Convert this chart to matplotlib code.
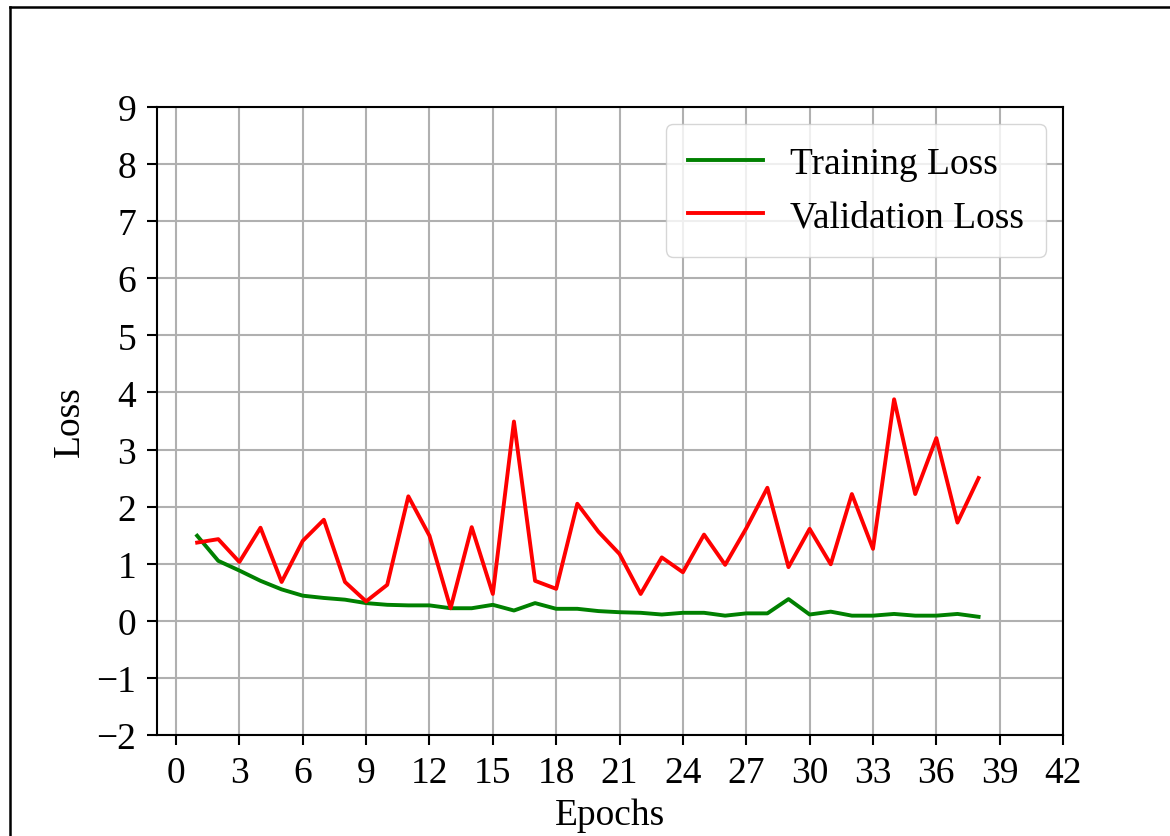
import matplotlib
matplotlib.use("Agg")
import matplotlib.pyplot as plt
from matplotlib.lines import Line2D
import numpy as np

plt.rcParams['font.family'] = ['Liberation Serif', 'DejaVu Serif']
plt.rcParams['font.size'] = 27

# loss per epoch
epochs = list(range(1, 39))
train_loss = [1.49, 1.05, 0.88, 0.70, 0.55, 0.44, 0.40, 0.37, 0.31, 0.28,
              0.27, 0.27, 0.22, 0.22, 0.28, 0.18, 0.31, 0.21, 0.21, 0.17,
              0.15, 0.14, 0.11, 0.14, 0.14, 0.09, 0.13, 0.13, 0.38, 0.11,
              0.16, 0.09, 0.09, 0.12, 0.09, 0.09, 0.12, 0.07]
val_loss = [1.37, 1.43, 1.03, 1.63, 0.68, 1.40, 1.77, 0.68, 0.34, 0.63,
            2.18, 1.49, 0.22, 1.64, 0.47, 3.49, 0.70, 0.56, 2.05, 1.56,
            1.17, 0.47, 1.11, 0.85, 1.51, 0.98, 1.62, 2.33, 0.94, 1.61,
            0.99, 2.22, 1.26, 3.88, 2.22, 3.20, 1.72, 2.50]

fig = plt.figure(figsize=(11.7, 8.37), dpi=100)
ax = fig.add_axes([0.1342, 0.1207, 0.7744, 0.7503])

ax.plot(epochs, train_loss, color='green', lw=2.8, label='Training Loss')
ax.plot(epochs, val_loss, color='red', lw=2.8, label='Validation Loss')

ax.set_xlim(-0.9, 42)
ax.set_ylim(-2, 9)
ax.set_xticks(np.arange(0, 43, 3))
ax.set_yticks(np.arange(-2, 10, 1))
ax.grid(True, color='#b0b0b0', lw=1.5)
ax.set_axisbelow(True)
for s in ax.spines.values():
    s.set_linewidth(1.5)
ax.tick_params(width=1.5, length=7, pad=8)

ax.set_xlabel('Epochs')
ax.set_ylabel('Loss')
# label positions in axes fraction
ax.xaxis.set_label_coords(0.5, (736 - 799) / 628)
ax.yaxis.set_label_coords((87 - 157) / 906, 0.5)
ax.legend(loc='upper right', borderpad=0.6, handletextpad=0.7,
          borderaxespad=0.45)

# outer frame (top and left edges only)
fig.add_artist(Line2D([10 / 1170, 1.0], [1 - 8 / 837, 1 - 8 / 837],
                      transform=fig.transFigure, color='black', lw=1.8))
fig.add_artist(Line2D([10 / 1170, 10 / 1170], [0.0, 1 - 8 / 837],
                      transform=fig.transFigure, color='black', lw=1.8))

fig.savefig('out.png', dpi=100)
